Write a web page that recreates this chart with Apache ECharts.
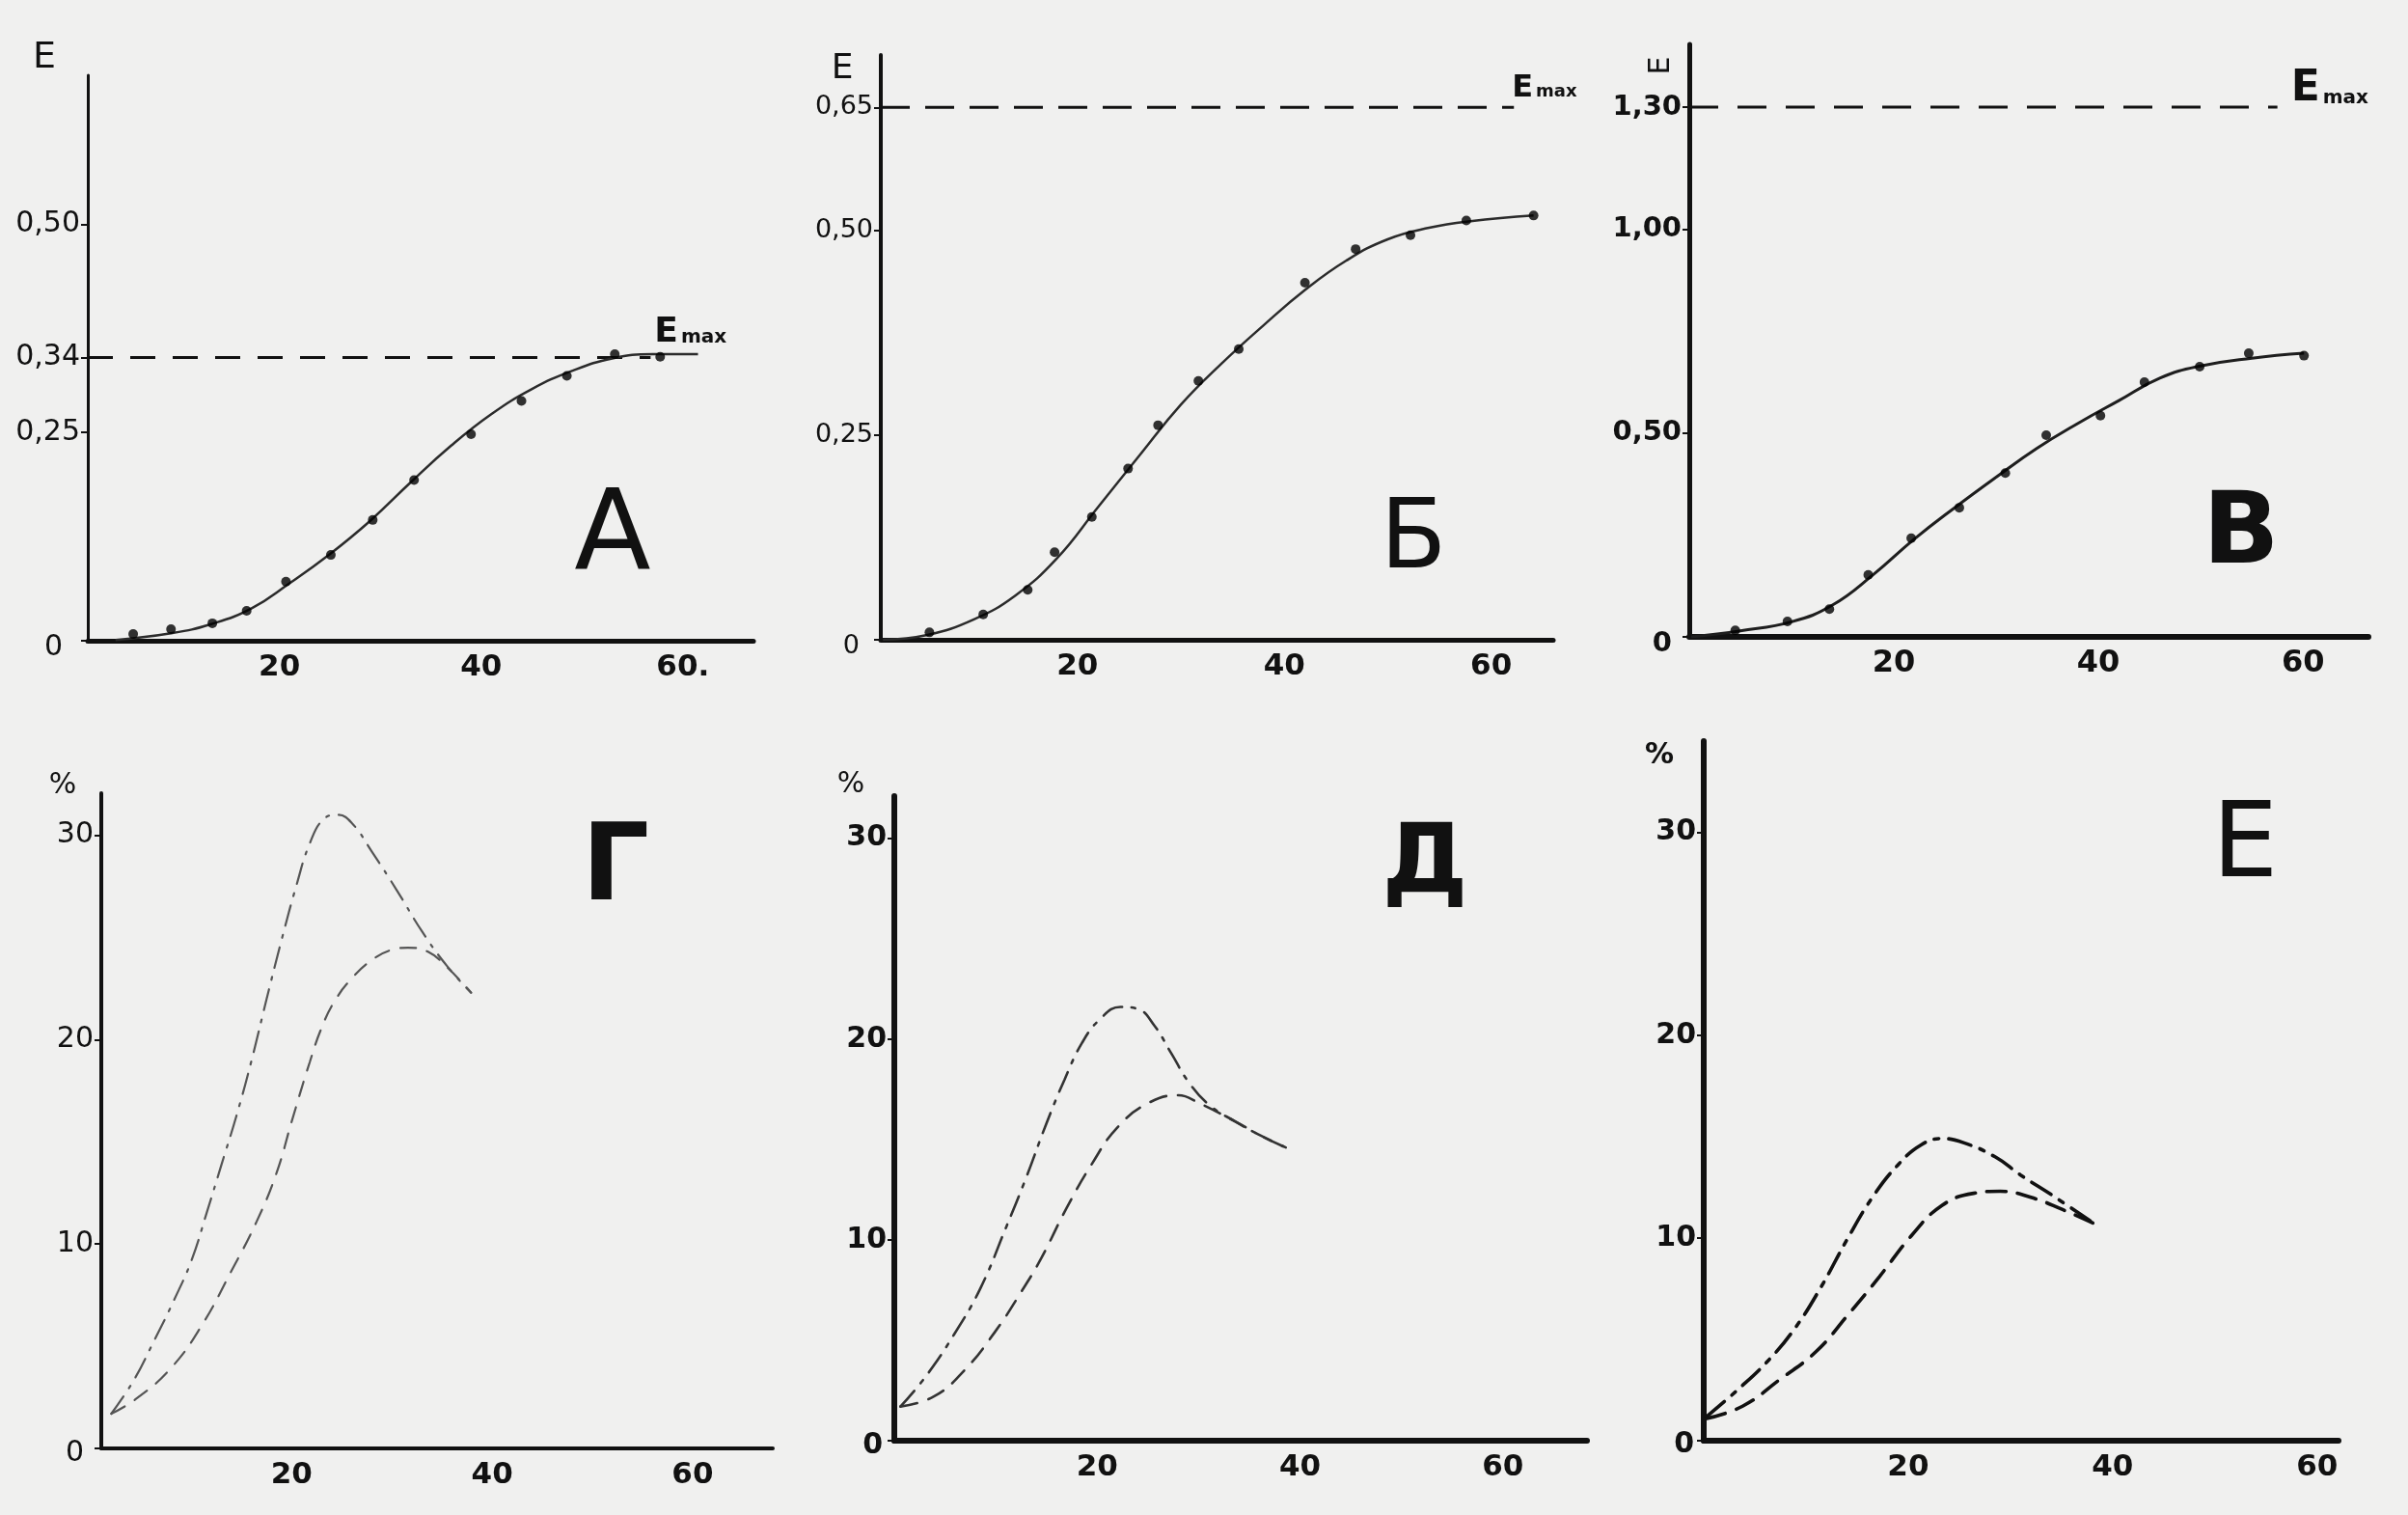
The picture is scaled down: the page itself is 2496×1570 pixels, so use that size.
<!DOCTYPE html>
<html><head><meta charset="utf-8">
<script src="https://cdn.jsdelivr.net/npm/echarts@6/dist/echarts.min.js"></script>
<style>html,body{margin:0;padding:0;background:#f0f0ef}#c{width:2496px;height:1570px}</style>
</head><body><div id="c"></div>
<script>
// ---------- tick labels ----------
const X_TICKS = [20, 40, 60];
const X_TEXT_A = ['20', '40', '60.'];
const X_TEXT = ['20', '40', '60'];
const A_YTICKS = [0, 0.25, 0.34, 0.50];
const A_YTEXT = ['0', '0,25', '0,34', '0,50'];
const B_YTICKS = [0, 0.25, 0.50, 0.65];
const B_YTEXT = ['0', '0,25', '0,50', '0,65'];
const V_YTICKS = [0, 0.50, 1.00, 1.30];
const V_YTEXT = ['0', '0,50', '1,00', '1,30'];
const P_YTICKS = [0, 10, 20, 30];
const P_YTEXT = ['0', '10', '20', '30'];

// ---------- panel А ----------
const A_DOT_X = [5.5, 9.25, 13.35, 16.75, 20.65, 25.1, 29.25, 33.35, 39, 44, 48.5, 53.25, 57.75];
const A_DOT_Y = [0.008, 0.014, 0.021, 0.036, 0.071, 0.103, 0.145, 0.193, 0.248, 0.288, 0.318, 0.344, 0.341];
const A_CURVE_X = [3.75, 9.25, 13.25, 17.25, 21, 25, 29, 33, 37, 41, 45, 49, 53, 57, 61.5];
const A_CURVE_Y = [0.001, 0.009, 0.020, 0.039, 0.069, 0.104, 0.144, 0.190, 0.234, 0.272, 0.302, 0.324, 0.339, 0.344, 0.344];
const A_EMAX = 0.34, A_EMAX_END = 56.8;

// ---------- panel Б ----------
const B_DOT_X = [5.7, 10.9, 15.2, 17.8, 21.4, 24.9, 27.8, 31.7, 35.6, 42.0, 46.9, 52.2, 57.6, 64.1];
const B_DOT_Y = [0.009, 0.031, 0.061, 0.107, 0.150, 0.209, 0.262, 0.316, 0.355, 0.436, 0.477, 0.494, 0.512, 0.518];
const B_CURVE_X = [1.2, 5.5, 10, 14, 18, 22, 26, 30, 34, 38, 42, 46, 50, 54, 58, 64.1];
const B_CURVE_Y = [0, 0.006, 0.025, 0.054, 0.099, 0.162, 0.225, 0.287, 0.338, 0.384, 0.427, 0.463, 0.489, 0.503, 0.511, 0.518];
const B_EMAX = 0.65, B_EMAX_END = 62.2;

// ---------- panel В ----------
const V_DOT_X = [4.5, 9.6, 13.7, 17.5, 21.7, 26.4, 30.9, 34.9, 40.2, 44.5, 49.9, 54.7, 60.1];
const V_DOT_Y = [0.016, 0.038, 0.068, 0.152, 0.242, 0.317, 0.402, 0.495, 0.543, 0.625, 0.663, 0.696, 0.690];
const V_CURVE_X = [0.2, 5, 10, 14, 18, 22, 26, 30, 34, 38, 42, 46, 50, 55, 60.1];
const V_CURVE_Y = [0, 0.015, 0.037, 0.078, 0.153, 0.240, 0.318, 0.392, 0.463, 0.524, 0.580, 0.635, 0.665, 0.684, 0.696];
const V_EMAX = 1.30, V_EMAX_END = 57.5;

// ---------- panel Г ----------
const G_UP_X = [2, 4.2, 6.2, 8.2, 10, 11.5, 13, 14.5, 16, 17.5, 19, 20.5, 21.8, 23.2, 24.6, 26, 28, 30.5, 33, 35.5, 37.9];
const G_UP_Y = [1.7, 3.3, 5.2, 7.2, 9.2, 11.5, 13.9, 16.3, 19.0, 22.0, 24.9, 27.6, 29.6, 30.8, 31.0, 30.6, 29.2, 27.3, 25.3, 23.6, 22.3];
const G_LO_X = [2, 4.4, 7.9, 11, 14, 16.5, 18.5, 20, 21.8, 23, 24.3, 26, 28, 30, 31.6, 33.6, 35.6, 37.9];
const G_LO_Y = [1.7, 2.4, 3.9, 6.0, 8.7, 11.1, 13.5, 16.0, 18.9, 20.6, 21.9, 23.0, 23.9, 24.4, 24.5, 24.3, 23.5, 22.3];

// ---------- panel Д ----------
const D_UP_X = [0.6, 3.1, 5.9, 8.5, 11, 13, 15, 16.8, 18.5, 20.3, 22.3, 24, 25.6, 27.3, 29.1, 31.1, 33.6, 36.1, 38.6];
const D_UP_Y = [1.7, 3.2, 5.3, 7.6, 10.6, 13.1, 15.8, 18.0, 19.8, 21.0, 21.6, 21.5, 20.7, 19.3, 17.8, 16.7, 15.9, 15.2, 14.6];
const D_LO_X = [0.6, 3.9, 6.9, 9.9, 12.5, 14.5, 17, 19.5, 22, 25, 28, 30.1, 33.6, 36.1, 38.6];
const D_LO_Y = [1.7, 2.2, 3.5, 5.4, 7.4, 9.1, 11.6, 13.8, 15.6, 16.8, 17.2, 16.8, 15.9, 15.2, 14.6];

// ---------- panel Е ----------
const E_UP_X = [0.3, 3.3, 6.4, 9, 11.5, 14, 16.5, 19, 21.3, 23.3, 25.4, 28.5, 31, 34.1, 38.2];
const E_UP_Y = [1.2, 2.5, 4.0, 5.6, 7.6, 9.9, 12.0, 13.6, 14.6, 14.9, 14.7, 14.0, 13.1, 12.1, 10.7];
const E_LO_X = [0.3, 3.8, 7.4, 11, 14.1, 17.2, 20.3, 23.3, 26.4, 29, 32, 35.1, 38.2];
const E_LO_Y = [1.1, 1.7, 3.0, 4.4, 6.2, 8.1, 10.1, 11.6, 12.2, 12.3, 12.0, 11.4, 10.7];

// ---------- helpers ----------
const INK = '#111111';
const FONT = '"DejaVu Sans", "Liberation Sans", sans-serif';
const zip = (xs, ys) => xs.map((x, i) => [x, ys[i]]);
const pick = (ticks, texts) => v => {
  const k = ticks.findIndex(t => Math.abs(t - v) < 1e-9);
  if (k < 0) return '';
  return texts[k] === '0' ? '{z|0}' : texts[k];
};

const grids = [
  {left: 91,   top: 78,  width: 690, height: 586},
  {left: 913,  top: 57,  width: 697, height: 606},
  {left: 1751, top: 46,  width: 704, height: 614},
  {left: 105,  top: 822, width: 696, height: 679},
  {left: 927,  top: 825, width: 718, height: 668},
  {left: 1766, top: 768, width: 658, height: 725}
].map(g => Object.assign({outerBoundsMode: 'none', containLabel: false}, g));

function xAx(i, min, max, texts, w, size) {
  return {
    gridIndex: i, type: 'value', min: min, max: max,
    axisLine: {onZero: false, lineStyle: {color: INK, width: w, cap: 'round'}},
    axisTick: {show: false}, splitLine: {show: false},
    axisLabel: {
      customValues: X_TICKS, formatter: pick(X_TICKS, texts),
      fontFamily: FONT, fontSize: size, fontWeight: 'bold', color: INK, margin: 12
    }
  };
}
function yAx(i, max, ticks, texts, w, size, bold, zpad) {
  return {
    gridIndex: i, type: 'value', min: 0, max: max,
    axisLine: {onZero: false, lineStyle: {color: INK, width: w, cap: 'round'}},
    axisTick: {show: true, customValues: ticks, length: 7, lineStyle: {color: INK, width: 2}},
    splitLine: {show: false},
    axisLabel: {
      customValues: ticks, formatter: pick(ticks, texts),
      fontFamily: FONT, fontSize: size, fontWeight: bold ? 'bold' : 'normal', color: INK, margin: 8,
      rich: {z: {fontFamily: FONT, fontSize: size, fontWeight: bold ? 'bold' : 'normal', color: INK, padding: zpad}}
    }
  };
}

const xAxis = [
  xAx(0, 1, 67, X_TEXT_A, 5, 31),
  xAx(1, 1, 66, X_TEXT, 5, 31),
  xAx(2, 0, 66.4, X_TEXT, 6, 32),
  xAx(3, 1, 68, X_TEXT, 4, 31),
  xAx(4, 0, 68.3, X_TEXT, 6, 31),
  xAx(5, 0, 62.1, X_TEXT, 6, 31)
];
const yAxis = [
  yAx(0, 0.679, A_YTICKS, A_YTEXT, 3, 30, false, [14, 18, 0, 0]),
  yAx(1, 0.714, B_YTICKS, B_YTEXT, 4, 27, false, [14, 14, 0, 0]),
  yAx(2, 1.454, V_YTICKS, V_YTEXT, 5, 29, true, [14, 10, 0, 0]),
  yAx(3, 32.06, P_YTICKS, P_YTEXT, 4, 30, false, [10, 10, 0, 0]),
  yAx(4, 32.1, P_YTICKS, P_YTEXT, 6, 30, true, [10, 4, 0, 0]),
  yAx(5, 34.5, P_YTICKS, P_YTEXT, 6, 30, true, [8, 2, 0, 0])
];

function curve(i, xs, ys, color, width) {
  return {type: 'line', xAxisIndex: i, yAxisIndex: i, data: zip(xs, ys), smooth: 0.45,
    showSymbol: false, symbol: 'none', lineStyle: {color: color, width: width}, silent: true, z: 3};
}
function dots(i, xs, ys) {
  return {type: 'scatter', xAxisIndex: i, yAxisIndex: i, data: zip(xs, ys), symbol: 'circle',
    symbolSize: 10, itemStyle: {color: '#000000'}, silent: true, z: 4};
}
function dashed(i, xs, ys, color, width, dash) {
  return {type: 'line', xAxisIndex: i, yAxisIndex: i, data: zip(xs, ys), smooth: 0.45,
    showSymbol: false, symbol: 'none', lineStyle: {color: color, width: width, type: dash, cap: 'round'}, silent: true, z: 3};
}
function emax(i, xmin, xend, yv, dash, eSize, mSize, offset) {
  return {type: 'line', xAxisIndex: i, yAxisIndex: i, silent: true, symbol: 'none', showSymbol: false,
    lineStyle: {color: INK, width: 3, type: dash},
    data: [[xmin, yv], [xend, yv]],
    endLabel: {
      show: true, distance: 4, offset: offset,
      formatter: '{e|E}{m|max}',
      rich: {
        e: {fontFamily: FONT, fontSize: eSize, fontWeight: 'bold', color: INK, verticalAlign: 'bottom'},
        m: {fontFamily: FONT, fontSize: mSize, fontWeight: 'bold', color: INK, verticalAlign: 'bottom', padding: [0, 0, 3, 3]}
      }
    }
  };
}

const series = [
  emax(0, 1, A_EMAX_END, A_EMAX, [26, 18], 36, 20, [0, -26]),
  curve(0, A_CURVE_X, A_CURVE_Y, '#2b2b2b', 2.5),
  dots(0, A_DOT_X, A_DOT_Y),
  emax(1, 1, B_EMAX_END, B_EMAX, [30, 16], 32, 18, [-6, -20]),
  curve(1, B_CURVE_X, B_CURVE_Y, '#2b2b2b', 2.5),
  dots(1, B_DOT_X, B_DOT_Y),
  emax(2, 0, V_EMAX_END, V_EMAX, [30, 20], 44, 20, [10, -18]),
  curve(2, V_CURVE_X, V_CURVE_Y, '#1e1e1e', 3),
  dots(2, V_DOT_X, V_DOT_Y),
  dashed(3, G_UP_X, G_UP_Y, '#555555', 2.2, [22, 10, 3, 10]),
  dashed(3, G_LO_X, G_LO_Y, '#555555', 2.2, [16, 12]),
  dashed(4, D_UP_X, D_UP_Y, '#333333', 2.6, [22, 10, 4, 10]),
  dashed(4, D_LO_X, D_LO_Y, '#333333', 2.6, [18, 12]),
  dashed(5, E_UP_X, E_UP_Y, '#111111', 3.6, [24, 10, 5, 10]),
  dashed(5, E_LO_X, E_LO_Y, '#111111', 3.6, [20, 12])
];

function txt(x, y, s, size, weight, rot) {
  return {type: 'text', x: x, y: y, rotation: rot || 0, silent: true,
    style: {text: s, fontFamily: FONT, fontSize: size, fontWeight: weight, fill: INK, align: 'center', verticalAlign: 'middle'}};
}
const graphic = [
  // panel letters
  txt(635, 560, 'А', 116, 'normal'),
  txt(1465, 562, 'Б', 100, 'normal'),
  txt(2323, 556, 'В', 104, '600'),
  txt(638, 903, 'Г', 110, '600'),
  txt(1477, 898, 'Д', 100, '600'),
  txt(2327, 880, 'Е', 108, 'normal'),
  // axis names
  txt(46, 60, 'E', 38, 'normal'),
  txt(873, 72, 'E', 36, 'normal'),
  txt(1722, 68, 'E', 30, 'normal', Math.PI / 2),
  txt(65, 814, '%', 30, 'normal'),
  txt(882, 813, '%', 30, 'normal'),
  txt(1720, 783, '%', 30, 'bold')
];

const chart = echarts.init(document.getElementById('c'), null, {renderer: 'canvas', width: 2496, height: 1570});
chart.setOption({
  backgroundColor: '#f0f0ef',
  animation: false,
  grid: grids, xAxis: xAxis, yAxis: yAxis, series: series, graphic: graphic
});
</script>
</body></html>
